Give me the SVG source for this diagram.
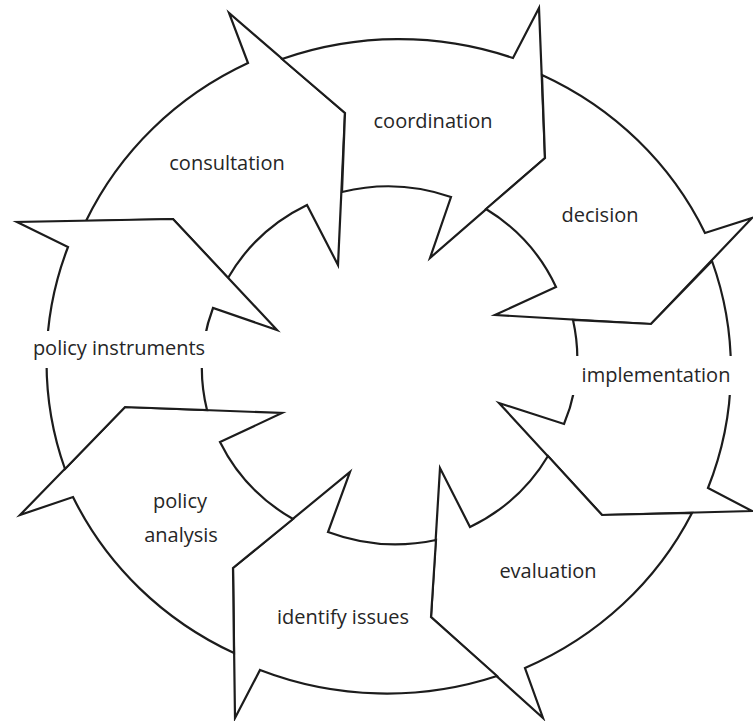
<svg xmlns="http://www.w3.org/2000/svg" width="753" height="721" viewBox="0 0 753 721">
<style>
.arrow{fill:#fff;stroke:#1c1c1c;stroke-width:2.2;stroke-linejoin:miter;stroke-miterlimit:12}
.lbl{font-family:"Open Sans","Liberation Sans",sans-serif;font-size:20px;fill:#262626;text-anchor:middle}
.knock{fill:#fff;stroke:none}
</style>
<rect width="753" height="721" fill="#fff"/>
<g id="consultation">
<path class="arrow" d="M 86,221 A 342 330 0 0 1 248,63 L 229,13 L 345,113 L 338,265 L 307,205 A 186 179 0 0 0 228,278 L 173,219 Z"/>
<text class="lbl" x="227" y="170">consultation</text>
</g>
<g id="coordination">
<path class="arrow" d="M 282,59 A 342 330 0 0 1 513,58 L 539,8 L 545,158 L 430,258 L 451,197 A 186 179 0 0 0 342,192 L 345,113 Z"/>
<text class="lbl" x="433" y="128">coordination</text>
</g>
<g id="decision">
<path class="arrow" d="M 542,75 A 342 330 0 0 1 705,233 L 752,218 L 651,324 L 495,315 L 556,287 A 186 179 0 0 0 486,209 L 545,158 Z"/>
<text class="lbl" x="600" y="222">decision</text>
</g>
<g id="implementation">
<path class="arrow" d="M 712,261 A 342 330 0 0 1 708,488 L 752,511 L 602,515 L 499,403 L 564,424 A 186 179 0 0 0 573,320 L 651,324 Z"/>
<rect class="knock" x="566" y="356" width="172" height="39"/>
<text class="lbl" x="656" y="382">implementation</text>
</g>
<g id="evaluation">
<path class="arrow" d="M 692,513 A 342 330 0 0 1 525,668 L 543,718 L 431,617 L 440,468 L 470,527 A 186 179 0 0 0 548,456 L 602,515 Z"/>
<text class="lbl" x="548" y="578">evaluation</text>
</g>
<g id="identify-issues">
<path class="arrow" d="M 497,676 A 342 330 0 0 1 260,670 L 235,718 L 233,568 L 350,472 L 328,532 A 186 179 0 0 0 436,540 L 431,617 Z"/>
<text class="lbl" x="343" y="624">identify issues</text>
</g>
<g id="policy-analysis">
<path class="arrow" d="M 234,653 A 342 330 0 0 1 73,497 L 20,515 L 125,407 L 282,413 L 220,442 A 186 179 0 0 0 293,519 L 233,568 Z"/>
<text class="lbl" x="180" y="508">policy</text>
<text class="lbl" x="181" y="542">analysis</text>
</g>
<g id="policy-instruments">
<path class="arrow" d="M 65,469 A 342 330 0 0 1 68,247 L 17,222 L 173,219 L 277,330 L 213,308 A 186 179 0 0 0 207,410 L 125,407 Z"/>
<rect class="knock" x="28" y="331" width="185" height="37"/>
<text class="lbl" x="119" y="355">policy instruments</text>
</g>
</svg>
